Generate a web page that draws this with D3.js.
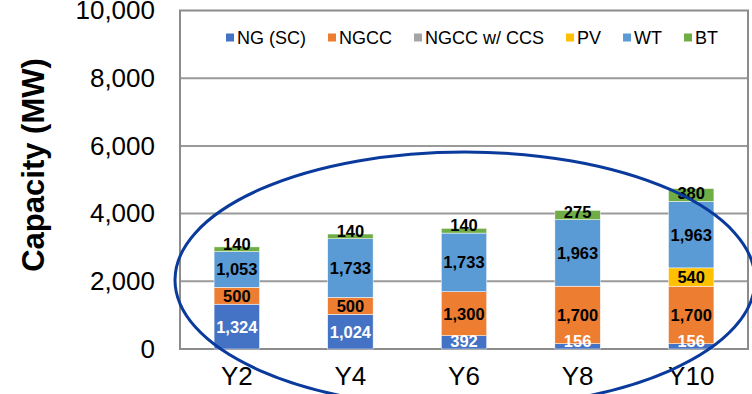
<!DOCTYPE html>
<html>
<head>
<meta charset="utf-8">
<script src="https://cdn.jsdelivr.net/npm/d3@7"></script>
<style>
  html, body { margin: 0; padding: 0; background: #fff; }
  svg { display: block; font-family: "Liberation Sans", Arial, sans-serif; }
</style>
</head>
<body>
<svg id="chart" width="752" height="394"></svg>
<script>
// Installed capacity by technology (MW)
const years = ["Y2", "Y4", "Y6", "Y8", "Y10"];
const techs = ["NG (SC)", "NGCC", "NGCC w/ CCS", "PV", "WT", "BT"];
const ngSC   = [1324, 1024, 392, 156, 156];
const ngcc   = [500, 500, 1300, 1700, 1700];
const ngccCCS = [0, 0, 0, 0, 0];
const pv     = [0, 0, 0, 0, 540];
const wt     = [1053, 1733, 1733, 1963, 1963];
const bt     = [140, 140, 140, 275, 380];
const yTicks = [0, 2000, 4000, 6000, 8000, 10000];

const seriesValues = [ngSC, ngcc, ngccCCS, pv, wt, bt];
const colors = ["#4472C4", "#ED7D31", "#A5A5A5", "#FFC000", "#5B9BD5", "#70AD47"];
const labelColors = ["#fff", "#000", "#000", "#000", "#000", "#000"];

const rows = years.map((yr, i) => {
  const r = { year: yr };
  techs.forEach((t, k) => r[t] = seriesValues[k][i]);
  return r;
});

const svg = d3.select("#chart");
const plotL = 180, plotR = 748, plotT = 10.5, plotB = 349;

const x = d3.scaleBand().domain(years).range([plotL, plotR])
  .paddingInner(0.6).paddingOuter(0.3);
const y = d3.scaleLinear().domain([0, 10000]).range([plotB, plotT]);

// gridlines
svg.append("g").selectAll("line").data(yTicks.slice(1, -1)).join("line")
  .attr("x1", plotL).attr("x2", plotR)
  .attr("y1", d => y(d)).attr("y2", d => y(d))
  .attr("stroke", "#9a9a9a").attr("stroke-width", 2);

// plot frame
svg.append("rect")
  .attr("x", plotL).attr("y", plotT)
  .attr("width", plotR - plotL).attr("height", plotB - plotT)
  .attr("fill", "none").attr("stroke", "#8c8c8c").attr("stroke-width", 2);

// y axis tick labels
const yAxis = d3.axisLeft(y).tickValues(yTicks).tickSize(0).tickPadding(25)
  .tickFormat(d3.format(","));
svg.append("g").attr("transform", `translate(${plotL},0)`).call(yAxis)
  .call(g => g.select(".domain").remove())
  .call(g => g.selectAll("text").attr("font-size", 26)
    .attr("fill", "#000").attr("font-family", "Liberation Sans, Arial, sans-serif"));

// x axis labels
const xAxis = d3.axisBottom(x).tickSize(0).tickPadding(18);
svg.append("g").attr("transform", `translate(0,${plotB})`).call(xAxis)
  .call(g => g.select(".domain").remove())
  .call(g => g.selectAll("text").attr("font-size", 26)
    .attr("fill", "#000").attr("font-family", "Liberation Sans, Arial, sans-serif"));

// y axis title
svg.append("text")
  .attr("transform", "translate(44,165) rotate(-90)")
  .attr("text-anchor", "middle")
  .attr("font-size", 31).attr("font-weight", "bold")
  .text("Capacity (MW)");

// stacked bars
const stacked = d3.stack().keys(techs)(rows);
const layers = svg.append("g").selectAll("g").data(stacked).join("g")
  .attr("fill", (d, i) => colors[i]);
layers.selectAll("rect").data(d => d).join("rect")
  .attr("x", d => x(d.data.year))
  .attr("width", x.bandwidth())
  .attr("y", d => y(d[1]))
  .attr("height", d => y(d[0]) - y(d[1]))
  .attr("stroke", "#fff").attr("stroke-width", 0.5);

// value labels, kept from dropping below their segment's base
const halfText = 8;
stacked.forEach((layer, k) => {
  svg.append("g").selectAll("text")
    .data(layer.filter(d => d[1] - d[0] > 0))
    .join("text")
    .attr("x", d => x(d.data.year) + x.bandwidth() / 2)
    .attr("y", d => Math.min((y(d[0]) + y(d[1])) / 2, y(d[0]) - halfText))
    .attr("dy", "0.36em")
    .attr("text-anchor", "middle")
    .attr("font-size", 16.5).attr("font-weight", "bold")
    .attr("fill", labelColors[k])
    .text(d => d3.format(",")(d[1] - d[0]));
});

// legend
const legend = svg.append("g");
let lx = 226;
const ly = 38;
techs.forEach((t, i) => {
  legend.append("rect").attr("x", lx).attr("y", ly - 4.5)
    .attr("width", 8).attr("height", 8).attr("fill", colors[i]);
  const txt = legend.append("text").attr("x", lx + 11).attr("y", ly)
    .attr("dy", "0.36em").attr("font-size", 18).attr("fill", "#000").text(t);
  lx += 11 + txt.node().getComputedTextLength() + 22;
});

// highlight ellipse
svg.append("ellipse")
  .attr("cx", 465).attr("cy", 280).attr("rx", 290).attr("ry", 128)
  .attr("fill", "none").attr("stroke", "#0a3a9c").attr("stroke-width", 3);
</script>
</body>
</html>
